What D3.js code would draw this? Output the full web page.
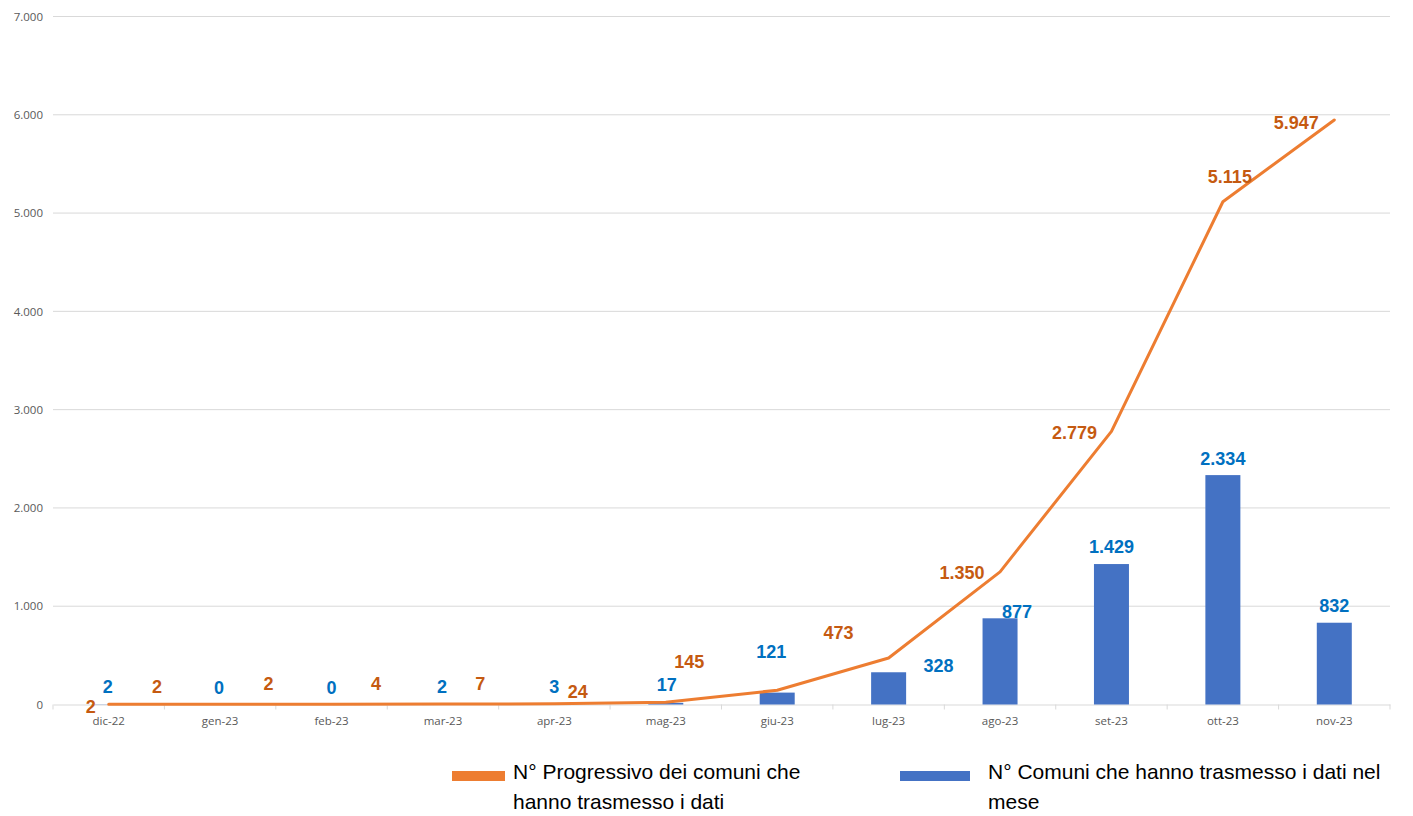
<!DOCTYPE html>
<html><head><meta charset="utf-8">
<script src="https://cdn.jsdelivr.net/npm/d3@7/dist/d3.min.js"></script>
<style>
html,body{margin:0;padding:0;background:#fff;}
svg{display:block;}
</style></head>
<body>
<svg id="chart" width="1413" height="816"></svg>
<script>
// ---- data ----
const categories = ["dic-22","gen-23","feb-23","mar-23","apr-23","mag-23","giu-23","lug-23","ago-23","set-23","ott-23","nov-23"];
const monthlyValues = [2,0,0,2,3,17,121,328,877,1429,2334,832];
const progressiveValues = [2,2,2,4,7,24,145,473,1350,2779,5115,5947];
const yTicks = [0,1000,2000,3000,4000,5000,6000,7000];
const seriesNames = ["N° Progressivo dei comuni che hanno trasmesso i dati","N° Comuni che hanno trasmesso i dati nel mese"];
// label offsets (styling, px) as placed in the original
const progLabelOffsets = [[-18,3],[-63,-17],[-63,-20],[-67,-20],[-74,-20],[-88,-10],[-88,-28],[-50,-25],[-38,1],[-37,2],[7,-25],[-38,3]];
const monthLabelOffsets = [[-1,-17],[-1,-17],[0,-17],[-1,-17],[0,-17],[1,-18],[-6,-41],[50,-6],[17,-6],[0,-17],[0,-16],[0,-17]];

(function(){
const svg = d3.select("#chart");
const pLeft = 53, pRight = 1390, pTop = 16.5, pBottom = 704.5;
const x = d3.scaleBand().domain(categories).range([pLeft, pRight]).paddingInner(0).paddingOuter(0);
const y = d3.scaleLinear().domain([0,7000]).range([pBottom, pTop]);
const fmt = v => d3.format(",")(v).replace(/,/g, ".");

// gridlines
svg.append("g").selectAll("line").data(yTicks.filter(d=>d>0)).join("line")
  .attr("x1", pLeft).attr("x2", pRight)
  .attr("y1", d=>y(d)).attr("y2", d=>y(d))
  .attr("stroke", "#d9d9d9").attr("stroke-width", 1);

// y axis labels
const yAxis = svg.append("g").attr("transform", `translate(${pLeft-10},0)`)
  .call(d3.axisLeft(y).tickValues(yTicks).tickSize(0).tickPadding(0).tickFormat(fmt));
yAxis.select(".domain").remove();
yAxis.selectAll("text").attr("font-family","'Open Sans', sans-serif").attr("font-size",11.5).attr("fill","#595959");

// x axis
const xAxis = svg.append("g").attr("transform", `translate(0,${pBottom})`)
  .call(d3.axisBottom(x).tickSize(0).tickPadding(12));
xAxis.select(".domain").attr("stroke","#d9d9d9");
xAxis.selectAll("text").attr("font-family","'Open Sans', sans-serif").attr("font-size",11.5).attr("fill","#595959");
// tick marks at band boundaries
const bounds = categories.map(c=>x(c)).concat([pRight]);
svg.append("g").selectAll("line").data(bounds).join("line")
  .attr("x1", d=>d).attr("x2", d=>d).attr("y1", pBottom).attr("y2", pBottom+5)
  .attr("stroke","#d9d9d9");

// bars
const barW = 35;
svg.append("g").selectAll("rect").data(monthlyValues).join("rect")
  .attr("x", (d,i)=>x(categories[i]) + x.bandwidth()/2 - barW/2)
  .attr("width", barW)
  .attr("y", d=>y(d))
  .attr("height", d=>pBottom - y(d))
  .attr("fill", "#4472C4");

// line
const line = d3.line().x((d,i)=>x(categories[i]) + x.bandwidth()/2).y(d=>y(d));
svg.append("path").datum(progressiveValues)
  .attr("d", line).attr("fill","none").attr("stroke","#ED7D31").attr("stroke-width",3)
  .attr("stroke-linejoin","round").attr("stroke-linecap","round");

// labels
svg.append("g").selectAll("text").data(monthlyValues).join("text")
  .attr("x", (d,i)=>x(categories[i]) + x.bandwidth()/2 + monthLabelOffsets[i][0])
  .attr("y", (d,i)=>y(d) + monthLabelOffsets[i][1])
  .attr("text-anchor","middle").attr("dominant-baseline","central")
  .attr("font-family","'Liberation Sans', Arial, sans-serif").attr("font-weight","bold")
  .attr("font-size",18).attr("fill","#0070C0")
  .text(d=>fmt(d));
svg.append("g").selectAll("text").data(progressiveValues).join("text")
  .attr("x", (d,i)=>x(categories[i]) + x.bandwidth()/2 + progLabelOffsets[i][0])
  .attr("y", (d,i)=>y(d) + progLabelOffsets[i][1])
  .attr("text-anchor","middle").attr("dominant-baseline","central")
  .attr("font-family","'Liberation Sans', Arial, sans-serif").attr("font-weight","bold")
  .attr("font-size",18).attr("fill","#C55A11")
  .text(d=>fmt(d));

// legend
const legend = [
  {color:"#ED7D31", sx:452, sw:53, tx:513, lines:["N° Progressivo dei comuni che","hanno trasmesso i dati"]},
  {color:"#4472C4", sx:900, sw:70, tx:988, lines:["N° Comuni che hanno trasmesso i dati nel","mese"]}
];
const lg = svg.append("g").selectAll("g").data(legend).join("g");
lg.append("rect").attr("x",d=>d.sx).attr("y",771).attr("width",d=>d.sw).attr("height",10).attr("fill",d=>d.color);
lg.each(function(d){
  const t = d3.select(this).append("text")
    .attr("font-family","'Liberation Sans', Arial, sans-serif")
    .attr("font-size",21).attr("fill","#000");
  d.lines.forEach((l,j)=>{
    t.append("tspan").attr("x",d.tx).attr("y",779 + j*30).text(l);
  });
});
})();
</script>
</body></html>
